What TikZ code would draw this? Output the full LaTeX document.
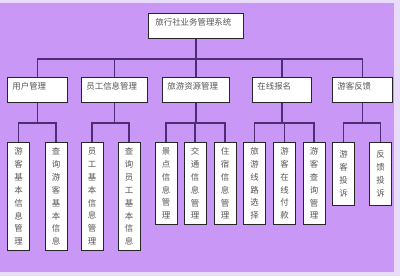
\documentclass[tikz,border=0pt]{standalone}
\usepackage{fontspec}
\newfontfamily\cjk{Noto Sans CJK SC}
\usetikzlibrary{shadows}
\definecolor{sysbg}{RGB}{201,152,246}
\definecolor{sysedge}{RGB}{232,220,250}
\definecolor{linkline}{RGB}{78,44,118}
\definecolor{labelgray}{RGB}{85,85,85}

\begin{document}
\begin{tikzpicture}[x=0.025cm,y=-0.025cm,
  basebox/.style={rectangle,draw=black!85,fill=white,line width=0.6pt,text=labelgray,
                  font=\cjk\fontsize{6pt}{9.15pt}\selectfont,
                  drop shadow={shadow xshift=0.6pt,shadow yshift=-0.6pt,fill=black!80,opacity=0.9}},
  headbox/.style={basebox,anchor=north west,align=left,inner xsep=0.125cm,inner ysep=0.07cm,
                  text width=#1,text height=0.235cm,text depth=0.25cm},
  leafbox/.style={basebox,anchor=north,align=center,inner xsep=0pt,text width=0.55cm,minimum height=#1},
  link/.style={draw=linkline,line width=1pt}
]
% background
\fill[sysedge] (0,0) rectangle (400,276);
\fill[sysbg] (0,3) rectangle (394,272);

% top and second level
\node[headbox=2.025cm,inner xsep=0.175cm] (sys) at (148,13) {旅行社业务管理系统};
\node[headbox=1.25cm] (user) at (7,77) {用户管理};
\node[headbox=1.4cm] (staff) at (81,77) {员工信息管理};
\node[headbox=1.425cm] (res) at (162,77) {旅游资源管理};
\node[headbox=1.225cm] (signup) at (252,77) {在线报名};
\node[headbox=1.25cm] (feedback) at (332,77) {游客反馈};

% leaves
\node[leafbox=2.7cm] (user1) at (18.5,142) {游\\客\\基\\本\\信\\息\\管\\理};
\node[leafbox=2.7cm] (user2) at (56,142) {查\\询\\游\\客\\基\\本\\信\\息};
\node[leafbox=2.7cm] (staff1) at (92,142) {员\\工\\基\\本\\信\\息\\管\\理};
\node[leafbox=2.7cm] (staff2) at (129,142) {查\\询\\员\\工\\基\\本\\信\\息};
\node[leafbox=2.05cm] (res1) at (166,142) {景\\点\\信\\息\\管\\理};
\node[leafbox=2.05cm] (res2) at (195,142) {交\\通\\信\\息\\管\\理};
\node[leafbox=2.05cm] (res3) at (225,142) {住\\宿\\信\\息\\管\\理};
\node[leafbox=2.05cm] (sign1) at (254.5,142) {旅\\游\\线\\路\\选\\择};
\node[leafbox=2.05cm] (sign2) at (284.5,142) {游\\客\\在\\线\\付\\款};
\node[leafbox=2.05cm] (sign3) at (314,142) {游\\客\\查\\询\\管\\理};
\node[leafbox=1.575cm] (fb1) at (343.5,142) {游\\客\\投\\诉};
\node[leafbox=1.575cm] (fb2) at (380.5,142) {反\\馈\\投\\诉};

% connectors
\foreach \n in {user,staff,res,signup,feedback}
  \draw[link] (sys.south) -- ++(0,20) -| (\n.north);
\foreach \p/\c in {user/user1,user/user2,staff/staff1,staff/staff2,res/res1,res/res2,res/res3,
                   signup/sign1,signup/sign2,signup/sign3,feedback/fb1,feedback/fb2}
  \draw[link] (\p.south) -- ++(0,20) -| (\c.north);
\end{tikzpicture}
\end{document}
